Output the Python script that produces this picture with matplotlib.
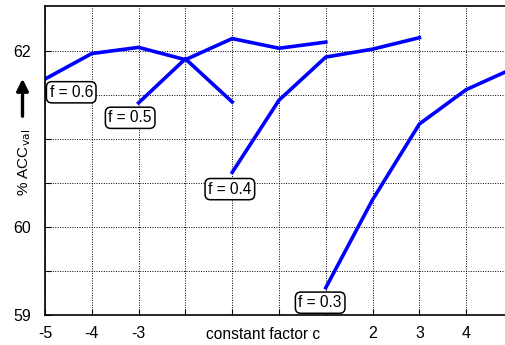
import matplotlib
matplotlib.use("Agg")
import matplotlib.pyplot as plt

plt.rcParams['font.family'] = ['Liberation Sans', 'DejaVu Sans']

# data
x_06 = [-5, -4, -3, -2, -1, 0, 1]
y_06 = [61.68, 61.97, 62.04, 61.90, 62.14, 62.03, 62.10]
x_05 = [-3, -2, -1]
y_05 = [61.41, 61.91, 61.42]
x_04 = [-1, 0, 1, 2, 3]
y_04 = [60.62, 61.44, 61.93, 62.02, 62.15]
x_03 = [1, 2, 3, 4, 5]
y_03 = [59.31, 60.31, 61.17, 61.56, 61.80]

labels = ["f = 0.6", "f = 0.5", "f = 0.4", "f = 0.3"]
label_pos = [(-4.44, 61.53), (-3.18, 61.24), (-1.05, 60.43), (0.88, 59.14)]

xticks = [-5, -4, -3, -2, -1, 0, 1, 2, 3, 4, 5]
xticklabels = ["-5", "-4", "-3", "", "", "", "", "2", "3", "4", ""]
yticks = [59, 59.5, 60, 60.5, 61, 61.5, 62]
yticklabels = ["59", "", "60", "", "", "", "62"]

W, H = 505, 345
fig = plt.figure(figsize=(W / 100, H / 100), dpi=100)
ax = fig.add_axes([45 / W, 30 / H, 468 / W, 309 / H])

for xs, ys in [(x_06, y_06), (x_05, y_05), (x_04, y_04), (x_03, y_03)]:
    ax.plot(xs, ys, color='#0000ff', lw=2.6, solid_joinstyle='miter', clip_on=True)

ax.set_xlim(-5, 5)
ax.set_ylim(59, 62.51)
ax.set_xticks(xticks)
ax.set_xticklabels(xticklabels)
ax.set_yticks(yticks)
ax.set_yticklabels(yticklabels)
ax.grid(True, color='black', linestyle=(0, (1, 1.5)), lw=0.7)
ax.tick_params(direction='in', length=4, width=0.8, labelsize=11.5, pad=8)
ax.tick_params(axis='y', pad=10)
for s in ax.spines.values():
    s.set_linewidth(1.2)

for t, (lx, ly) in zip(labels, label_pos):
    ax.text(lx, ly, t, ha='center', va='center', fontsize=11.2,
            bbox=dict(boxstyle='round,pad=0.2,rounding_size=0.35', fc='white', ec='black', lw=1.1))

ax.text(-0.34, -0.062, "constant factor c", transform=ax.get_xaxis_transform(),
        ha='center', va='center', fontsize=11.2)

fig.text(25 / W, 1 - 162 / H, "% ACC$_{\\mathrm{val}}$", rotation=90, ha='center', va='center', fontsize=11)
fig.add_artist(matplotlib.patches.FancyArrowPatch((22.5 / W, 1 - 119 / H), (22.5 / W, 1 - 76 / H),
                                                  transform=fig.transFigure, arrowstyle='-|>,head_length=7,head_width=3.5',
                                                  lw=2.4, color='black', mutation_scale=1))

fig.savefig("out.png", dpi=100)
